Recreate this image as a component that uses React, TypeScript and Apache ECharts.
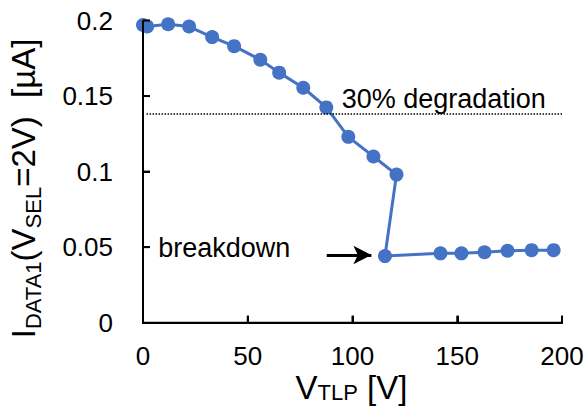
import React, { useEffect, useRef } from "react";
import * as echarts from "echarts";

const vTlp = [0, 2, 12, 22, 33, 43.5, 56, 65, 76.5, 87.5, 98, 110, 121, 115.5, 142, 152, 163, 174, 185.5, 196];
const iData = [0.197, 0.196, 0.1975, 0.196, 0.189, 0.183, 0.174, 0.1655, 0.1555, 0.1425, 0.123, 0.11, 0.098, 0.0441, 0.0459, 0.0459, 0.0466, 0.0476, 0.048, 0.048];
const degradationLine = [[1.7, 0.138], [200, 0.138]];
const breakdownArrow = [[87.7, 0.0448], [109, 0.0448]];
const xTicks = { min: 0, max: 200, interval: 50 };
const yTicks = { min: 0, max: 0.2, interval: 0.05 };
const xTickValues = [50, 100, 150, 200];
const yTickValues = [0.05, 0.1, 0.15, 0.2];

const FONT = "'Liberation Sans', Arial, sans-serif";
const BLUE = "#4472C4";
const W = 588;
const H = 408;
const GRID = { left: 143, right: 26, top: 20.5, bottom: 85.3 };
const TICK_PX = 7;

export default function App() {
  const ref = useRef<HTMLDivElement>(null);
  useEffect(() => {
    if (!ref.current) return;
    const chart = echarts.init(ref.current, undefined, { renderer: "svg" });
    const mainT = { fontSize: 33, lineHeight: 33, fontFamily: FONT, color: "#000", verticalAlign: "bottom" };
    const subT = { fontSize: 22, lineHeight: 22, fontFamily: FONT, color: "#000", verticalAlign: "bottom" };
    const mainY = { ...mainT, padding: [0, 0, 5, 0] };

    const texts: any[] = [
      {
        id: "xname",
        type: "text",
        x: 351.5,
        y: 387,
        style: { text: "{m|V}{s|TLP}{m| [V]}", align: "center", verticalAlign: "middle", rich: { m: mainT, s: subT } },
      },
      {
        id: "yname",
        type: "text",
        x: 28.4,
        y: 188.4,
        rotation: Math.PI / 2,
        style: {
          text: "{m|I}{s|DATA1}{m|(V}{s|SEL}{m|=2V)  [µA]}",
          align: "center",
          verticalAlign: "middle",
          rich: { m: mainY, s: subT },
        },
      },
      {
        id: "deg",
        type: "text",
        x: 341.7,
        y: 99,
        style: { text: "30% degradation", fontSize: 27, fontFamily: FONT, fill: "#000", align: "left", verticalAlign: "middle" },
      },
      {
        id: "bd",
        type: "text",
        x: 158.3,
        y: 248,
        style: { text: "breakdown", fontSize: 27, fontFamily: FONT, fill: "#000", align: "left", verticalAlign: "middle" },
      },
    ];

    chart.setOption({
      animation: false,
      backgroundColor: "#fff",
      grid: GRID,
      xAxis: {
        type: "value",
        min: xTicks.min,
        max: xTicks.max,
        interval: xTicks.interval,
        axisLine: { show: true, onZero: false, lineStyle: { color: "#000", width: 2 } },
        axisTick: { show: true, inside: true, length: TICK_PX, lineStyle: { color: "#000", width: 2 } },
        axisLabel: { fontSize: 26, color: "#000", fontFamily: FONT, margin: 20 },
        splitLine: { show: false },
      },
      yAxis: {
        type: "value",
        min: yTicks.min,
        max: yTicks.max,
        interval: yTicks.interval,
        axisLine: { show: true, onZero: false, lineStyle: { color: "#000", width: 2 } },
        axisTick: { show: true, inside: true, length: TICK_PX, lineStyle: { color: "#000", width: 2 } },
        axisLabel: { fontSize: 26, color: "#000", fontFamily: FONT, margin: 30 },
        splitLine: { show: false },
      },
      graphic: texts,
      series: [
        {
          type: "line",
          data: vTlp.map((x, i) => [x, iData[i]]),
          symbol: "circle",
          symbolSize: 14,
          clip: false,
          z: 3,
          lineStyle: { color: BLUE, width: 3 },
          itemStyle: { color: BLUE },
          markLine: {
            silent: true,
            label: { show: false },
            symbol: ["none", "none"],
            data: [
              [
                { coord: degradationLine[0], symbol: "none", lineStyle: { type: "dotted", color: "#000", width: 1.5 } },
                { coord: degradationLine[1], symbol: "none" },
              ],
              [
                { coord: breakdownArrow[0], symbol: "none", lineStyle: { type: "solid", color: "#000", width: 3 } },
                { coord: breakdownArrow[1], symbol: "arrow", symbolSize: [14, 18] },
              ],
            ],
          },
        },
      ],
    });

    // Axis lines and inside ticks, placed through the chart's own scales
    const plotW = W - GRID.left - GRID.right;
    const plotH = H - GRID.top - GRID.bottom;
    const toPx = (x: number, y: number): number[] => {
      let p: any = null;
      try {
        p = chart.convertToPixel({ gridIndex: 0 }, [x, y]);
      } catch (e) {
        p = null;
      }
      if (!p || !isFinite(p[0]) || !isFinite(p[1])) {
        p = [
          GRID.left + ((x - xTicks.min) / (xTicks.max - xTicks.min)) * plotW,
          GRID.top + plotH - ((y - yTicks.min) / (yTicks.max - yTicks.min)) * plotH,
        ];
      }
      return p;
    };
    const stroke = { stroke: "#000", lineWidth: 2 };
    const o = toPx(xTicks.min, yTicks.min);
    const xe = toPx(xTicks.max, yTicks.min);
    const ye = toPx(xTicks.min, yTicks.max);
    const lines: any[] = [
      { id: "xaxis", type: "line", z: 50, shape: { x1: o[0] - 1, y1: o[1], x2: xe[0] + 1, y2: xe[1] }, style: stroke },
      { id: "yaxis", type: "line", z: 50, shape: { x1: o[0], y1: o[1] + 1, x2: ye[0], y2: ye[1] }, style: stroke },
      ...xTickValues.map((v) => {
        const p = toPx(v, yTicks.min);
        return { id: "xt" + v, type: "line", z: 50, shape: { x1: p[0], y1: p[1], x2: p[0], y2: p[1] - TICK_PX }, style: stroke };
      }),
      ...yTickValues.map((v) => {
        const p = toPx(xTicks.min, v);
        return { id: "yt" + v, type: "line", z: 50, shape: { x1: p[0], y1: p[1], x2: p[0] + TICK_PX, y2: p[1] }, style: stroke };
      }),
    ];
    chart.setOption({ graphic: [...texts, ...lines] });

    return () => chart.dispose();
  }, []);
  return <div ref={ref} style={{ width: W, height: H, position: "absolute", left: 0, top: 0 }} />;
}
